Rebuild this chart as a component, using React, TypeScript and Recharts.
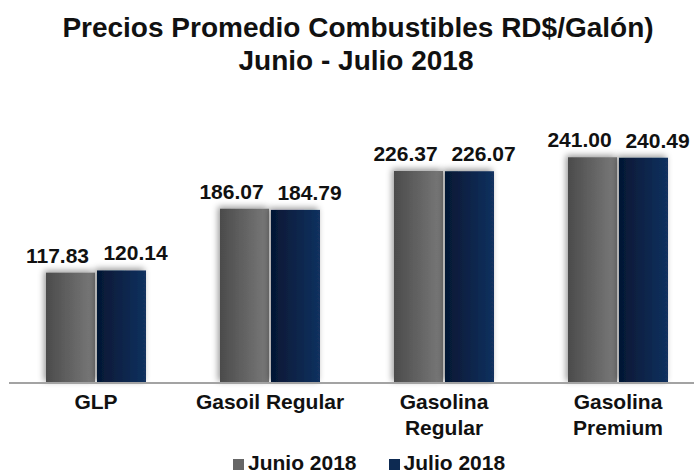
import { BarChart, Bar, XAxis, YAxis, Legend, LabelList } from "recharts";

// Precios promedio combustibles (RD$/galón), junio - julio 2018
const categories = ["GLP", "Gasoil Regular", "Gasolina\nRegular", "Gasolina\nPremium"];
const junio = [117.83, 186.07, 226.37, 241.0];
const julio = [120.14, 184.79, 226.07, 240.49];
const series = [
  { key: "junio", name: "Junio 2018", fill: "url(#gradGris)", swatch: "#666666", dx: -13 },
  { key: "julio", name: "Julio 2018", fill: "url(#gradAzul)", swatch: "#0d2a52", dx: 14 },
];

const data = categories.map((c, i) => ({ name: c, junio: junio[i], julio: julio[i] }));

const FONT = "'Liberation Sans', Arial, sans-serif";

function CategoryTick({ x, y, payload }: { x?: number; y?: number; payload?: { value: string } }) {
  const lines = String(payload?.value ?? "").split("\n");
  return (
    <text x={x} y={y} textAnchor="middle" fontFamily={FONT} fontWeight="bold" fontSize={21} fill="#111">
      {lines.map((l, i) => (
        <tspan key={i} x={x} dy={26}>
          {l}
        </tspan>
      ))}
    </text>
  );
}

function valueLabel(dx: number) {
  return (props: any) => {
    const { x, y, width, value } = props;
    return (
      <text
        x={Number(x) + Number(width) / 2 + dx}
        y={Number(y) - 10}
        textAnchor="middle"
        fontFamily={FONT}
        fontWeight="bold"
        fontSize={21}
        fill="#111"
      >
        {Number(value).toFixed(2)}
      </text>
    );
  };
}

function ShadowBar(props: any) {
  const { x, y, width, height, fill } = props;
  return <rect x={x} y={y} width={width} height={height} fill={fill} filter="url(#barShadow)" />;
}

function LegendContent() {
  return (
    <div style={{ display: "flex", fontFamily: FONT, fontWeight: "bold", fontSize: 21, lineHeight: "24px", color: "#111" }}>
      {series.map((s) => (
        <span key={s.key} style={{ marginRight: 32, whiteSpace: "nowrap" }}>
          <span style={{ display: "inline-block", width: 11, height: 11, background: s.swatch, marginRight: 4 }} />
          {s.name}
        </span>
      ))}
    </div>
  );
}

export default function App() {
  return (
    <div style={{ position: "absolute", left: 0, top: 0, width: 694, height: 476, overflow: "hidden", background: "#fff" }}>
      <BarChart
        width={705}
        height={476}
        data={data}
        margin={{ top: 102, right: 0, bottom: 63, left: 9 }}
        barSize={49}
        barGap={2}
      >
        <defs>
          <linearGradient id="gradGris" x1="0" y1="0" x2="1" y2="0">
            <stop offset="0%" stopColor="#4b4b4b" />
            <stop offset="100%" stopColor="#7a7a7a" />
          </linearGradient>
          <linearGradient id="gradAzul" x1="0" y1="0" x2="1" y2="0">
            <stop offset="0%" stopColor="#051733" />
            <stop offset="100%" stopColor="#12315f" />
          </linearGradient>
          <filter id="barShadow" x="-30%" y="-20%" width="160%" height="140%">
            <feDropShadow dx={-2} dy={-2} stdDeviation={3} floodColor="#000" floodOpacity={0.4} />
          </filter>
        </defs>
        <text x={358} y={37} textAnchor="middle" fontFamily={FONT} fontWeight="bold" fontSize={28} fill="#111">
          Precios Promedio Combustibles RD$/Galón)
        </text>
        <text x={356} y={70} textAnchor="middle" fontFamily={FONT} fontWeight="bold" fontSize={28} fill="#111">
          Junio - Julio 2018
        </text>
        <XAxis
          dataKey="name"
          axisLine={{ stroke: "#a3a3a3", strokeWidth: 2 }}
          tickLine={false}
          tickSize={0}
          tickMargin={0}
          interval={0}
          tick={<CategoryTick />}
        />
        <YAxis hide domain={[0, 300]} />
        <Legend
          layout="horizontal"
          verticalAlign="middle"
          align="center"
          wrapperStyle={{ top: 451, left: 233, width: "auto" }}
          content={<LegendContent />}
        />
        {series.map((s) => (
          <Bar key={s.key} dataKey={s.key} name={s.name} fill={s.fill} shape={<ShadowBar />} isAnimationActive={false}>
            <LabelList dataKey={s.key} content={valueLabel(s.dx)} />
          </Bar>
        ))}
      </BarChart>
    </div>
  );
}
